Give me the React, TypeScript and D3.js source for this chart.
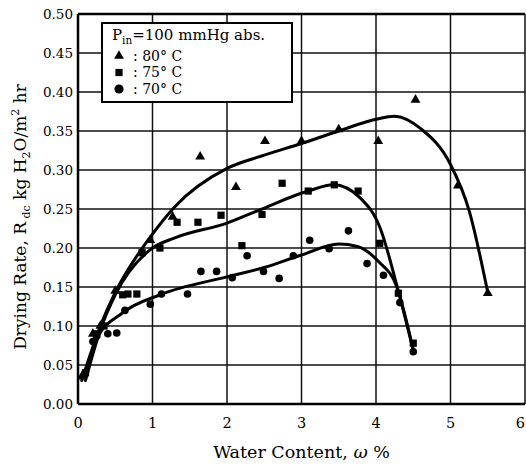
import * as d3 from 'd3';

// measured points, [water content %, drying rate]
const pts80: [number, number][] = [
  [0.05, 0.035], [0.2, 0.09], [0.3, 0.1], [0.5, 0.145], [0.97, 0.21], [1.27, 0.24],
  [1.64, 0.317], [2.12, 0.278], [2.51, 0.337], [3.0, 0.337], [3.5, 0.352], [4.03, 0.337],
  [4.53, 0.39], [5.1, 0.28], [5.5, 0.142],
];
const pts75: [number, number][] = [
  [0.1, 0.04], [0.25, 0.09], [0.35, 0.1], [0.6, 0.14], [0.67, 0.141], [0.79, 0.141],
  [0.86, 0.194], [1.1, 0.2], [1.33, 0.233], [1.61, 0.233], [1.92, 0.242], [2.2, 0.203],
  [2.47, 0.243], [2.74, 0.283], [3.09, 0.273], [3.44, 0.281], [3.76, 0.273], [4.05, 0.206],
  [4.3, 0.142], [4.5, 0.078],
];
const pts70: [number, number][] = [
  [0.1, 0.04], [0.2, 0.08], [0.25, 0.087], [0.4, 0.09], [0.52, 0.091], [0.63, 0.12],
  [0.97, 0.128], [1.12, 0.141], [1.47, 0.141], [1.65, 0.17], [1.86, 0.17], [2.07, 0.162],
  [2.27, 0.19], [2.49, 0.17], [2.7, 0.161], [2.89, 0.19], [3.11, 0.21], [3.37, 0.199],
  [3.63, 0.222], [3.88, 0.18], [4.1, 0.165], [4.32, 0.13], [4.5, 0.067],
];

// hand-drawn fit curves
const fit80: [number, number][] = [
  [0.05, 0.03], [0.3, 0.1], [0.5, 0.143], [0.97, 0.214], [1.3, 0.253], [2.0, 0.302],
  [2.5, 0.319], [3.0, 0.334], [3.5, 0.35], [4.0, 0.365], [4.25, 0.369], [4.6, 0.353],
  [5.0, 0.307], [5.25, 0.248], [5.5, 0.143],
];
const fit75: [number, number][] = [
  [0.1, 0.03], [0.3, 0.095], [0.5, 0.14], [0.97, 0.198], [1.3, 0.213], [2.0, 0.232],
  [2.44, 0.249], [3.09, 0.273], [3.43, 0.281], [3.79, 0.264], [4.05, 0.227], [4.32, 0.137],
  [4.5, 0.069],
];
const fit70: [number, number][] = [
  [0.1, 0.035], [0.25, 0.083], [0.6, 0.117], [1.1, 0.14], [2.0, 0.163], [2.5, 0.175],
  [3.0, 0.191], [3.5, 0.205], [3.75, 0.202], [4.03, 0.183], [4.28, 0.15], [4.5, 0.069],
];

const xTicks = [0, 1, 2, 3, 4, 5, 6];
const yTicks = [0, 0.05, 0.1, 0.15, 0.2, 0.25, 0.3, 0.35, 0.4, 0.45, 0.5];
const legendLabels = [': 80° C', ': 75° C', ': 70° C'];

const FONT = '"DejaVu Serif", serif';

export default function App() {
  const W = 526;
  const H = 465;
  const left = 78, right = 525, top = 14, bottom = 404;

  const x = d3.scaleLinear().domain([0, 6]).range([left, right]);
  const y = d3.scaleLinear().domain([0, 0.5]).range([bottom, top]);

  const line = d3.line<[number, number]>()
    .x(d => x(d[0]))
    .y(d => y(d[1]))
    .curve(d3.curveMonotoneX);

  const tri = d3.symbol().type(d3.symbolTriangle).size(42)();
  const sq = d3.symbol().type(d3.symbolSquare).size(52)();

  return (
    <svg width={W} height={H} style={{ position: 'absolute', left: 0, top: 0, background: '#fff' }}
      fontFamily={FONT}>
      {/* grid */}
      {yTicks.map(t => (
        <line key={'gy' + t} x1={left} x2={right} y1={y(t)} y2={y(t)} stroke="#111" strokeWidth={1.5} />
      ))}
      {xTicks.map(t => (
        <line key={'gx' + t} x1={x(t)} x2={x(t)} y1={top} y2={bottom} stroke="#111" strokeWidth={1.5} />
      ))}
      {/* frame */}
      <line x1={left} x2={left} y1={top} y2={bottom} stroke="#000" strokeWidth={2.5} />
      <line x1={left} x2={right} y1={bottom} y2={bottom} stroke="#000" strokeWidth={2.5} />
      <line x1={left} x2={right} y1={top} y2={top} stroke="#000" strokeWidth={2.5} />

      {/* tick labels */}
      {yTicks.map(t => (
        <text key={'ly' + t} x={73} y={y(t)} dy="0.35em" textAnchor="end" fontSize={13.5}>
          {t.toFixed(2)}
        </text>
      ))}
      {xTicks.map(t => (
        // last label sits at the right edge, keep it inside the picture
        <text key={'lx' + t} x={Math.min(x(t), W - 1)} y={428}
          textAnchor={x(t) + 5 > W ? 'end' : 'middle'} fontSize={14.5}>
          {t}
        </text>
      ))}

      {/* axis titles */}
      <text x={x(3)} y={458} textAnchor="middle" fontSize={17.5}>
        Water Content, <tspan fontStyle="italic">ω</tspan> %
      </text>
      <text transform={`translate(26,${(top + bottom) / 2 + 8}) rotate(-90)`} textAnchor="middle" fontSize={17}>
        Drying Rate, R<tspan fontSize={11} dy={4}> dc</tspan>
        <tspan dy={-4}> kg H</tspan>
        <tspan fontSize={11} dy={4}>2</tspan>
        <tspan dy={-4}>O/m</tspan>
        <tspan fontSize={11} dy={-7}>2</tspan>
        <tspan dy={7}> hr</tspan>
      </text>

      {/* legend */}
      <rect x={102} y={23} width={190} height={79} fill="#fff" stroke="#000" strokeWidth={2} />
      <text x={112} y={40} fontSize={15}>
        P<tspan fontSize={10.5} dy={4}>in</tspan>
        <tspan dy={-4}>=100 mmHg abs.</tspan>
      </text>
      <path d={tri} transform="translate(119,56)" fill="#000" />
      <path d={sq} transform="translate(119,72.5)" fill="#000" />
      <circle cx={119} cy={89} r={4.6} fill="#000" />
      {legendLabels.map((l, i) => (
        <text key={l} x={133} y={56 + i * 16.5} dy="0.35em" fontSize={14}>{l}</text>
      ))}

      {/* fitted curves */}
      {[fit80, fit75, fit70].map((f, i) => (
        <path key={'f' + i} d={line(f) || ''} fill="none" stroke="#000" strokeWidth={3}
          strokeLinejoin="round" strokeLinecap="round" />
      ))}

      {/* markers */}
      {pts80.map((p, i) => (
        <path key={'t' + i} d={tri} transform={`translate(${x(p[0])},${y(p[1])})`} fill="#000" />
      ))}
      {pts75.map((p, i) => (
        <path key={'s' + i} d={sq} transform={`translate(${x(p[0])},${y(p[1])})`} fill="#000" />
      ))}
      {pts70.map((p, i) => (
        <circle key={'c' + i} cx={x(p[0])} cy={y(p[1])} r={3.8} fill="#000" />
      ))}
    </svg>
  );
}
